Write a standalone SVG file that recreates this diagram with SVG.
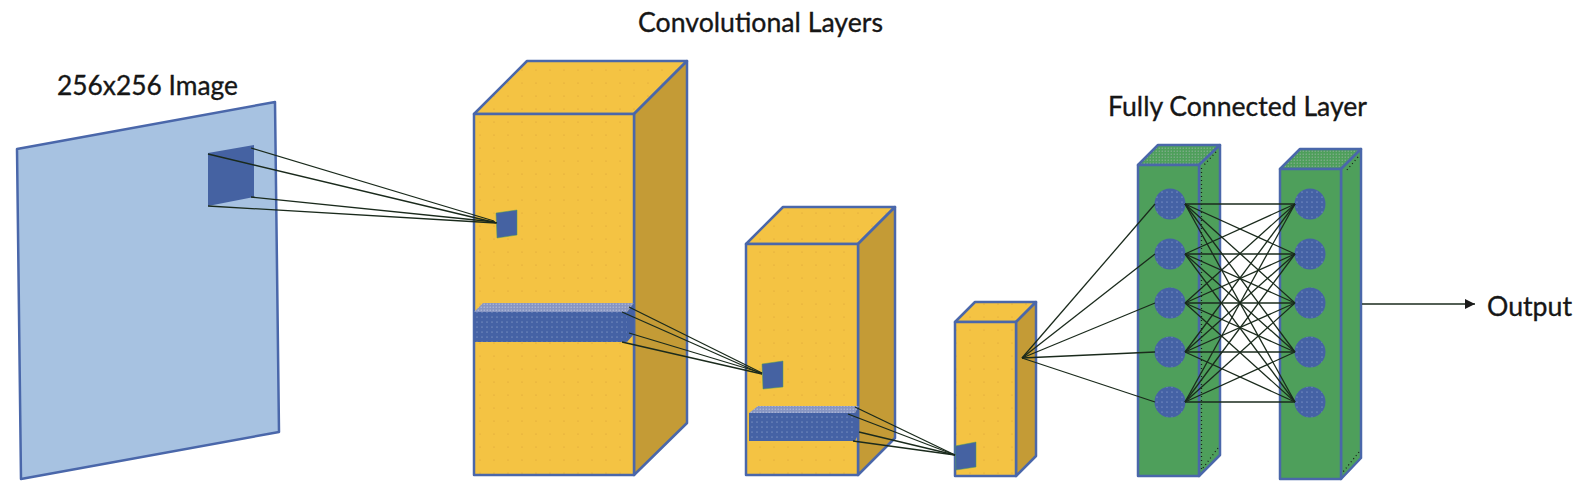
<svg xmlns="http://www.w3.org/2000/svg" width="1581" height="495" viewBox="0 0 1581 495">
<style>
.lbl{font-family:Lato,"Open Sans","Liberation Sans",sans-serif;font-size:27px;fill:#161616;stroke:#161616;stroke-width:0.35}
.edge{stroke:#4A67AA;stroke-width:2.5;stroke-linejoin:round}
.front{fill:url(#yd)}
.yside{fill:#C49B36}
.gface{fill:#4E9F5B}
.gtop{fill:url(#gd)}
.patch{fill:#4562A2;stroke:#4E9F5B;stroke-width:0.5}
.barf{fill:url(#bd)}
.bart{fill:url(#bt)}
.bars{fill:#4562A5}
.neuron{fill:url(#nd)}
.conn line{stroke:#1a2a1c;stroke-width:1.3;fill:none}
.dots{stroke:#1a1a1a;stroke-width:1.2;stroke-dasharray:1 3;fill:none}
</style>
<defs>
<pattern id="yd" width="14" height="13" patternUnits="userSpaceOnUse">
<rect width="14" height="13" fill="#F4C343"/>
<circle cx="4" cy="5" r="0.6" fill="#D99E35"/>
</pattern>
<pattern id="bd" width="5" height="5" patternUnits="userSpaceOnUse">
<rect width="5" height="5" fill="#4562A5"/>
<circle cx="2" cy="2" r="0.55" fill="#A9B8DA"/>
</pattern>
<pattern id="bt" width="3" height="3" patternUnits="userSpaceOnUse">
<rect width="3" height="3" fill="#8795C2"/>
<circle cx="1.2" cy="1.2" r="0.6" fill="#C2CBE3"/>
</pattern>
<pattern id="nd" width="5" height="5" patternUnits="userSpaceOnUse">
<rect width="5" height="5" fill="#4562A5"/>
<circle cx="2" cy="2" r="0.6" fill="#A3B6DE"/>
</pattern>
<pattern id="gd" width="3" height="3" patternUnits="userSpaceOnUse">
<rect width="3" height="3" fill="#4E9F5B"/>
<circle cx="1.2" cy="1.2" r="0.6" fill="#9DB5A8"/>
</pattern>
<marker id="arr" markerWidth="10" markerHeight="10" refX="10" refY="5" orient="auto" markerUnits="userSpaceOnUse">
<path d="M0,0 L10,5 L0,10 Z" fill="#1a1a1a"/>
</marker>
</defs>
<rect width="1581" height="495" fill="#ffffff"/>

<g id="labels">
<text class="lbl" x="57" y="95" textLength="181" lengthAdjust="spacingAndGlyphs">256x256 Image</text>
<text class="lbl" x="638" y="32" textLength="245" lengthAdjust="spacingAndGlyphs">Convolutional Layers</text>
<text class="lbl" x="1108" y="116" textLength="259" lengthAdjust="spacingAndGlyphs">Fully Connected Layer</text>
<text class="lbl" x="1487" y="316" textLength="85" lengthAdjust="spacingAndGlyphs">Output</text>
</g>

<g id="image">
<polygon points="17,149 275,102 279,432 21,479" fill="#A7C2E1" class="edge" stroke-width="2"/>
<polygon points="208,153 254,145 254,197 208,206" fill="#4562A2"/>
</g>

<g id="conv1">
<polygon class="front edge" points="474,114 527,61 687,61 634,114"/>
<polygon class="yside edge" points="634,114 687,61 687,423 634,475"/>
<rect class="front edge" x="474" y="114" width="160" height="361"/>
<polygon class="bart" points="474,312 483,303 634,303 627,312"/>
<polygon class="barf" points="474,312 627,312 627,342 474,342"/>
<polygon class="bars" points="627,312 634,303 634,334 627,342"/>
<polygon class="patch" points="496,213 517,210 517,235 497,238"/>
</g>

<g id="conv2">
<polygon class="front edge" points="746,244 783,207 895,207 858,244"/>
<polygon class="yside edge" points="858,244 895,207 895,438 858,475"/>
<rect class="front edge" x="746" y="244" width="112" height="231"/>
<polygon class="bart" points="749,413 758,406 859,406 855,413"/>
<polygon class="barf" points="749,413 855,413 855,441 749,441"/>
<polygon class="bars" points="855,413 859,406 859,433 855,441"/>
<polygon class="patch" points="762,364 783,361 783,387 763,389"/>
</g>

<g id="conv3">
<polygon class="front edge" points="955,322 975,302 1036,302 1016,322"/>
<polygon class="yside edge" points="1016,322 1036,302 1036,456 1016,476"/>
<rect class="front edge" x="955" y="322" width="61" height="154"/>
<polygon class="patch" points="955,446 976,442 976,467 956,470"/>
</g>

<g id="fc1">
<polygon class="gtop edge" points="1138,165 1158,145 1220,145 1199,165"/>
<polygon class="gface edge" points="1199,165 1220,145 1220,455 1199,476"/>
<rect class="gface edge" x="1138" y="165" width="61" height="311"/>
<line class="dots" x1="1201.5" y1="168" x2="1201.5" y2="472"/>
<line class="dots" x1="1216" y1="152" x2="1204" y2="165"/>
<line class="dots" x1="1218" y1="448" x2="1203" y2="468"/>
<circle class="neuron" cx="1170" cy="204" r="15.5"/>
<circle class="neuron" cx="1170" cy="254" r="15.5"/>
<circle class="neuron" cx="1170" cy="303" r="15.5"/>
<circle class="neuron" cx="1170" cy="352" r="15.5"/>
<circle class="neuron" cx="1170" cy="402" r="15.5"/>
</g>

<g id="fc2">
<polygon class="gtop edge" points="1280,169 1300,149 1361,149 1341,169"/>
<polygon class="gface edge" points="1341,169 1361,149 1361,458 1341,479"/>
<rect class="gface edge" x="1280" y="169" width="61" height="310"/>
<line class="dots" x1="1358" y1="157" x2="1346" y2="171"/>
<line class="dots" x1="1359" y1="452" x2="1343" y2="472"/>
<circle class="neuron" cx="1310" cy="204" r="15.5"/>
<circle class="neuron" cx="1310" cy="254" r="15.5"/>
<circle class="neuron" cx="1310" cy="303" r="15.5"/>
<circle class="neuron" cx="1310" cy="352" r="15.5"/>
<circle class="neuron" cx="1310" cy="402" r="15.5"/>
</g>

<g id="connectors" class="conn">
<line x1="251" y1="148" x2="494" y2="221"/>
<line x1="208" y1="154" x2="497" y2="223"/>
<line x1="251" y1="197" x2="495" y2="222"/>
<line x1="208" y1="206" x2="496" y2="223"/>

<line x1="629" y1="307" x2="762" y2="373"/>
<line x1="622" y1="312" x2="762" y2="374"/>
<line x1="629" y1="333" x2="762" y2="373"/>
<line x1="622" y1="342" x2="762" y2="374"/>

<line x1="855" y1="407" x2="955" y2="455"/>
<line x1="848" y1="414" x2="955" y2="455"/>
<line x1="859" y1="432" x2="955" y2="455"/>
<line x1="853" y1="441" x2="955" y2="455"/>

<line x1="1022" y1="358" x2="1155" y2="204"/>
<line x1="1022" y1="358" x2="1155" y2="254"/>
<line x1="1022" y1="358" x2="1155" y2="303"/>
<line x1="1022" y1="358" x2="1155" y2="352"/>
<line x1="1022" y1="358" x2="1155" y2="402"/>

<line x1="1185" y1="204" x2="1295" y2="204"/>
<line x1="1185" y1="204" x2="1295" y2="254"/>
<line x1="1185" y1="204" x2="1295" y2="303"/>
<line x1="1185" y1="204" x2="1295" y2="352"/>
<line x1="1185" y1="204" x2="1295" y2="402"/>
<line x1="1185" y1="254" x2="1295" y2="204"/>
<line x1="1185" y1="254" x2="1295" y2="254"/>
<line x1="1185" y1="254" x2="1295" y2="303"/>
<line x1="1185" y1="254" x2="1295" y2="352"/>
<line x1="1185" y1="254" x2="1295" y2="402"/>
<line x1="1185" y1="303" x2="1295" y2="204"/>
<line x1="1185" y1="303" x2="1295" y2="254"/>
<line x1="1185" y1="303" x2="1295" y2="303"/>
<line x1="1185" y1="303" x2="1295" y2="352"/>
<line x1="1185" y1="303" x2="1295" y2="402"/>
<line x1="1185" y1="352" x2="1295" y2="204"/>
<line x1="1185" y1="352" x2="1295" y2="254"/>
<line x1="1185" y1="352" x2="1295" y2="303"/>
<line x1="1185" y1="352" x2="1295" y2="352"/>
<line x1="1185" y1="352" x2="1295" y2="402"/>
<line x1="1185" y1="402" x2="1295" y2="204"/>
<line x1="1185" y1="402" x2="1295" y2="254"/>
<line x1="1185" y1="402" x2="1295" y2="303"/>
<line x1="1185" y1="402" x2="1295" y2="352"/>
<line x1="1185" y1="402" x2="1295" y2="402"/>

<line x1="1362" y1="304" x2="1475" y2="304" marker-end="url(#arr)"/>
</g>
</svg>
